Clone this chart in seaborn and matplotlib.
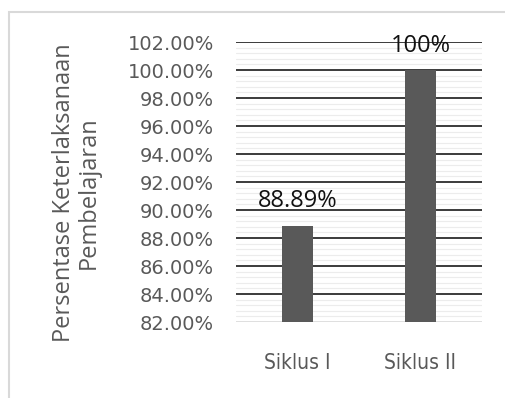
"""
plot.py - bar chart of Persentase Keterlaksanaan Pembelajaran per siklus
"""

# import statements
import numpy as np
import pandas as pd
import matplotlib
matplotlib.use('Agg')
import matplotlib.pyplot as plt
import matplotlib.ticker as ticker
import matplotlib.patches as patches
import seaborn as sns

# ---------------------------------------------------------------------#
# ------------------------------ DATA ---------------------------------#
# ---------------------------------------------------------------------#

categories = ['Siklus I', 'Siklus II']
values = [88.89, 100.0]
value_labels = ['88.89%', '100%']
y_ticks = [82, 84, 86, 88, 90, 92, 94, 96, 98, 100, 102]
ylabel = 'Persentase Keterlaksanaan\nPembelajaran'

df = pd.DataFrame({'siklus': categories, 'persen': values})

# ---------------------------------------------------------------------#
# ---------------------------- PLOTTING -------------------------------#
# ---------------------------------------------------------------------#

sns.set_style('white')
plt.rcParams['font.family'] = ['DejaVu Sans']

grey_text = '#595959'

fig = plt.figure(figsize=(5.05, 3.98), dpi=100)
ax = fig.add_axes([236/505, 1 - 322/398, 246/505, 280/398])

# minor (light) and major (dark) grid lines behind bars
ax.set_axisbelow(True)
ax.set_ylim(y_ticks[0], y_ticks[-1])
ax.yaxis.set_major_locator(ticker.FixedLocator(y_ticks))
ax.yaxis.set_minor_locator(ticker.MultipleLocator(0.4))
ax.grid(axis='y', which='minor', color='#ececec', linewidth=0.8)
ax.grid(axis='y', which='major', color='#1a1a1a', linewidth=1.2)
ax.grid(axis='x', visible=False)

sns.barplot(data=df, x='siklus', y='persen', ax=ax,
            color='#595959', saturation=1, width=0.245,
            bottom=0, edgecolor='none')
ax.set_ylim(y_ticks[0], y_ticks[-1])

# bottom major line is light like the axis in the original
ax.yaxis.get_gridlines()[0].set_color('#d9d9d9')

# data labels above bars
for i, (v, lab) in enumerate(zip(values, value_labels)):
    ax.annotate(lab, xy=(i, v), xytext=(0, 9), textcoords='offset points',
                ha='center', va='bottom', fontsize=17, color='#111111',
                family=['Open Sans', 'DejaVu Sans'])

# tick labels
ax.yaxis.set_major_formatter(ticker.FuncFormatter(lambda y, _: '{:.2f}%'.format(y)))
ax.tick_params(axis='y', which='both', length=0, pad=16, labelsize=14,
               labelcolor=grey_text)
ax.tick_params(axis='x', length=0, pad=22, labelsize=15, labelcolor=grey_text)
for lab in ax.get_xticklabels():
    lab.set_family(['Liberation Sans Narrow', 'DejaVu Sans'])
    lab.set_fontstretch('condensed')

ax.set_xlabel('')
ax.set_ylabel('')
sns.despine(ax=ax, left=True, bottom=True, top=True, right=True)

# rotated y axis title
fig.text(76/505, 1 - 193/398, ylabel, rotation=90, ha='center', va='center',
         multialignment='center', fontsize=17, color=grey_text,
         family=['Open Sans', 'DejaVu Sans'], linespacing=1.05)

# light chart border
border = patches.Rectangle((9/505, -0.05), 1.2, 1 - 12/398 + 0.05,
                           transform=fig.transFigure, fill=False,
                           edgecolor='#d9d9d9', linewidth=1.5)
fig.patches.append(border)

plt.savefig('out.png', dpi=100)
plt.close('all')
